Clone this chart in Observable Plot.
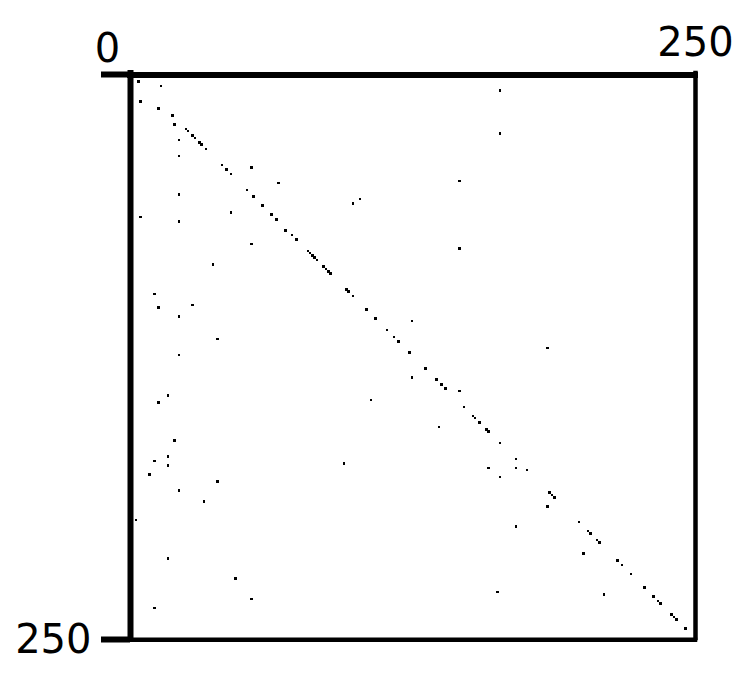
<!DOCTYPE html>
<html><head><meta charset="utf-8">
<script src="https://cdn.jsdelivr.net/npm/d3@7"></script>
<script src="https://cdn.jsdelivr.net/npm/@observablehq/plot@0.6"></script>
<style>html,body{margin:0;padding:0;background:#fff;}</style>
</head><body><div id="chart"></div>
<script>
// Non-zero entries of the 250x250 sparse matrix (row index, column index)
const rows = [3,5,12,15,18,22,24,25,27,28,29,30,31,33,36,40,42,44,41,48,51,53,54,58,62,64,63,61,65,69,71,73,75,78,79,80,81,82,84,
  7,26,47,55,57,77,
  97,103,102,107,117,124,142,145,162,
  85,86,87,88,95,96,98,104,108,109,113,116,118,123,130,134,135,137,139,140,144,147,151,152,154,157,158,156,163,
  121,
  169,171,173,177,180,184,189,197,214,223,232,236,
  172,174,178,229,
  170,174,175,185,186,187,191,198,200,202,203,206,207,212,215,217,221,227,230,231,233,234,239,240,241,245];
const cols = [3,13,4,12,18,19,24,25,27,28,21,30,31,33,21,40,42,44,53,65,51,21,54,58,62,64,4,44,21,68,71,73,53,78,79,80,81,82,36,
  163,163,145,101,98,145,
  10,12,27,21,38,21,16,12,19,
  85,86,87,88,95,96,98,104,108,124,113,116,118,123,130,124,135,137,139,145,106,147,151,152,154,157,158,136,163,
  184,
  16,10,16,8,38,21,32,2,16,46,53,10,
  94,158,163,162,
  170,170,175,185,186,187,184,198,170,202,203,206,207,200,215,217,221,227,209,231,233,234,239,240,241,245];

const extent = [0, 250];
const xTicks = [0, 250];
const xTickLabels = ["0", "250"];
const yTicks = [0, 250];
const yTickLabels = ["0", "250"];

const entries = rows.map((r, i) => ({row: r, col: cols[i]}));

const chart = Plot.plot({
  width: 750, height: 698,
  marginLeft: 130, marginRight: 55, marginTop: 73, marginBottom: 60,
  x: {domain: extent, axis: null},
  y: {domain: extent, reverse: true, axis: null},
  style: {background: "white", fontFamily: "DejaVu Sans, sans-serif", fontSize: "40px", color: "black", overflow: "visible"},
  marks: [
    Plot.dot(entries, {x: d => d.col + 0.5, y: d => d.row + 0.5, symbol: "square", r: 1.45, fill: "black", shapeRendering: "crispEdges"}),
    Plot.ruleX([extent[1]], {x: d => d, stroke: "black", strokeWidth: 4.5, strokeLinecap: "square"}),
    Plot.ruleY([extent[1]], {y: d => d, stroke: "black", strokeWidth: 4.5, dy: 1.3, strokeLinecap: "square"}),
    Plot.ruleX([extent[0]], {x: d => d, stroke: "black", strokeWidth: 6, strokeLinecap: "square"}),
    Plot.ruleY([extent[0]], {y: d => d, stroke: "black", strokeWidth: 6, dy: 1.5, strokeLinecap: "square"}),
    Plot.axisY(yTicks, {anchor: "left", tickSize: 29, strokeWidth: 6, fill: "none", dy: 1, label: null}),
    Plot.text([0], {x: i => xTicks[i], text: i => xTickLabels[i], frameAnchor: "top", lineAnchor: "middle", textAnchor: "middle", dx: -23, dy: -24, fontSize: 40}),
    Plot.text([1], {x: i => xTicks[i], text: i => xTickLabels[i], frameAnchor: "top", lineAnchor: "middle", textAnchor: "middle", dx: 0, dy: -30, fontSize: 40}),
    Plot.text([1], {y: i => yTicks[i], text: i => yTickLabels[i], frameAnchor: "left", lineAnchor: "middle", textAnchor: "end", dx: -39, dy: 1.8, fontSize: 40})
  ]
});
document.getElementById("chart").appendChild(chart);
</script>
</body></html>
